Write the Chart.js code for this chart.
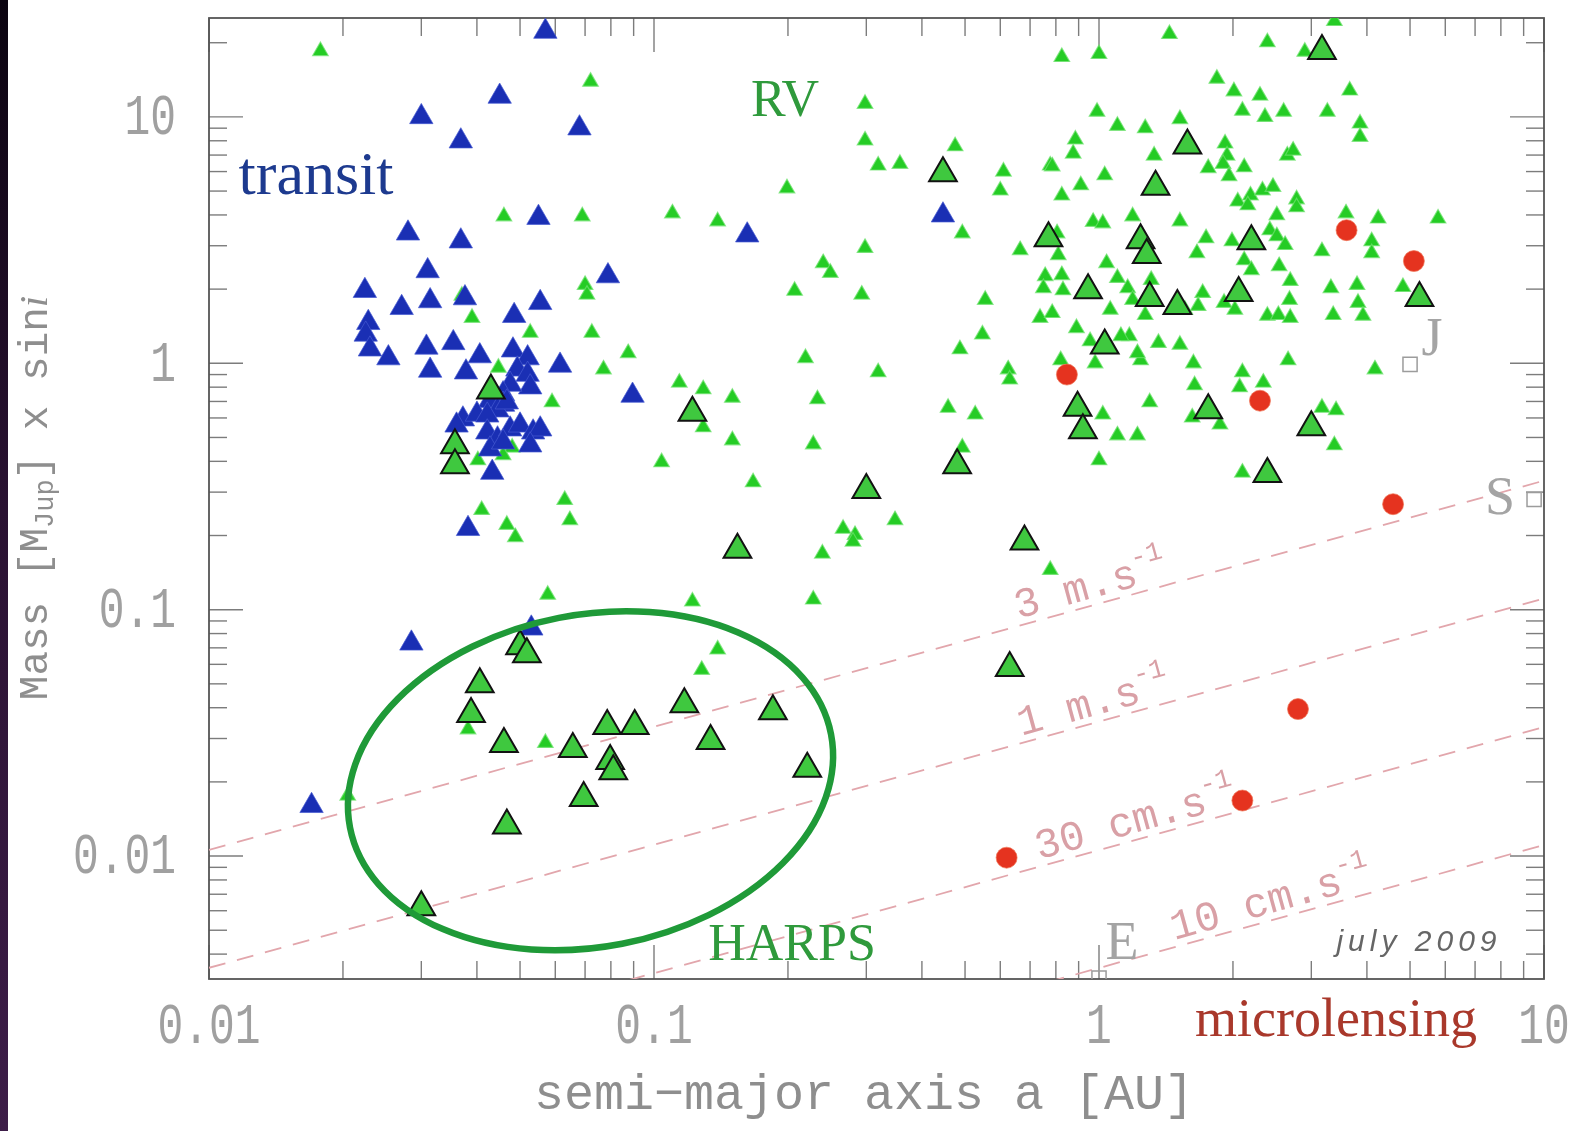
<!DOCTYPE html>
<html>
<head>
<meta charset="utf-8">
<script src="https://cdn.jsdelivr.net/npm/chart.js@4.4.0/dist/chart.umd.min.js"></script>
<style>
html,body{margin:0;padding:0;background:#fff;}
#wrap{position:relative;width:1583px;height:1131px;overflow:hidden;background:#fff;}
#band{position:absolute;left:0;top:0;width:8px;height:1131px;background:linear-gradient(#0b0410,#2a1232 45%,#3d1d48);}
canvas{position:absolute;left:0;top:0;}
</style>
</head>
<body>
<div id="wrap"><canvas id="c" width="1583" height="1131"></canvas><div id="band"></div></div>
<script>
// ---------------- DATA ----------------
// Radial-velocity planets (small green triangles): semi-major axis [AU], mass [M_Jup]
const rvA = [
 0.0178,0.046,0.037,0.039,0.0527,0.070,0.0707,0.0725,0.0447,0.077,0.059,0.048,0.0458,0.0402,0.041,0.0467,0.0488,0.063,0.0647,0.0577,0.057,0.0382,0.0205,0.072,0.069,0.11,0.139,0.0875,0.114,0.129,0.15,0.129,0.15,0.104,0.167,0.122,0.139,0.128,
 0.199,0.298,0.298,0.319,0.357,0.475,0.61,0.60,0.777,0.24,0.249,0.298,0.493,0.665,0.207,0.293,0.555,0.757,0.75,0.825,0.83,0.737,0.785,0.219,0.319,0.547,0.487,0.625,0.63,0.233,0.458,0.527,0.228,0.493,0.239,0.266,0.283,0.28,0.348,0.777,0.228,
 3.38,1.44,2.39,2.9,0.825,1.0,1.84,2.01,2.3,3.66,2.1,2.36,2.6,3.26,0.99,1.10,1.27,1.52,3.86,3.86,
 0.885,0.875,1.33,1.92,1.94,1.9,2.65,2.73,0.785,1.03,1.76,2.12,1.96,0.91,0.825,2.05,2.19,2.33,2.46,2.16,
 2.78,2.78,2.51,3.59,4.24,5.78,0.97,1.02,1.19,1.52,2.42,0.805,1.74,1.66,1.99,2.51,2.62,3.17,4.1,4.1,
 0.81,1.04,2.12,2.2,2.54,1.10,1.16,1.19,1.31,1.71,2.69,2.68,1.91,2.02,1.67,3.32,3.8,3.82,3.92,4.82,
 2.39,2.53,2.69,3.36,1.06,1.27,1.56,0.89,0.955,1.17,1.36,1.52,1.24,0.98,1.63,2.66,4.17,0.82,2.1,2.07,
 2.34,1.64,1.30,1.02,1.10,1.22,1.0,1.62,1.87,3.17,3.41,3.38,2.1,1.12,1.22
];
const rvM = [
 18.5,3.95,1.88,1.53,1.33,2.08,1.90,1.33,0.96,0.945,0.695,0.455,0.424,0.404,0.254,0.221,0.197,0.279,0.231,0.115,0.0288,0.0327,0.0176,13.9,3.95,4.06,3.77,1.10,0.835,0.785,0.725,0.55,0.487,0.397,0.329,0.108,0.069,0.057,
 5.13,11.3,8.03,6.35,6.45,7.6,6.0,5.03,6.35,2.55,2.33,2.94,3.37,2.88,1.97,1.90,1.81,2.26,2.02,2.28,1.98,1.53,1.60,1.05,0.92,1.31,1.14,0.945,0.86,0.715,0.66,0.62,0.469,0.455,0.169,0.213,0.201,0.189,0.231,0.145,0.11,
 24.5,21.7,20.1,18.4,17.5,18.0,14.3,12.7,12.2,12.8,10.6,10.0,10.5,10.5,10.5,9.2,9.0,9.8,9.4,8.3,
 8.1,7.1,6.97,7.8,6.97,6.45,6.97,7.3,6.3,5.8,6.2,6.25,5.75,5.28,4.8,4.54,4.8,5.03,5.2,4.38,
 4.63,4.3,3.99,4.06,3.87,3.87,3.75,3.7,3.95,3.77,3.47,3.37,3.22,2.8,3.13,3.28,3.02,2.85,3.13,2.8,
 2.75,2.55,2.62,2.39,2.48,2.22,2.02,1.81,2.18,1.93,2.16,1.81,1.76,1.65,1.71,2.02,2.08,1.76,1.56,2.04,
 1.56,1.57,1.53,1.57,1.65,1.57,1.65,1.39,1.23,1.29,1.21,1.19,1.03,1.0,1.0,1.03,0.945,1.03,0.92,0.80,
 0.835,0.815,0.695,0.62,0.51,0.51,0.404,0.603,0.565,0.66,0.645,0.465,0.36,1.29,1.10
];
// Transiting planets (blue triangles)
const transitA = [0.057,0.045,0.030,0.0368,0.068,0.055,0.028,0.0368,0.031,0.0224,0.0271,0.0314,0.0376,0.0485,0.0555,0.0228,0.0225,0.023,0.0253,0.0308,0.0354,0.0314,0.0378,0.0406,0.0482,0.052,0.0493,0.052,0.0527,0.0475,0.0458,0.0458,0.0428,0.0445,0.0615,0.0788,0.162,0.446,0.0895,0.0372,0.040,0.036,0.0422,0.0467,0.0422,0.0445,0.0475,0.050,0.0535,0.0555,0.0527,0.0428,0.0458,0.0433,0.0382,0.0285,0.053,0.017];
const transitM = [22.2,12.1,10.0,7.97,9.0,3.9,3.37,3.13,2.37,1.97,1.68,1.79,1.84,1.56,1.76,1.46,1.31,1.14,1.05,1.16,1.21,0.935,0.92,1.07,1.13,1.05,0.945,0.90,0.80,0.82,0.75,0.68,0.705,0.645,0.98,2.26,3.31,3.99,0.74,0.593,0.62,0.56,0.615,0.695,0.525,0.492,0.54,0.56,0.525,0.54,0.465,0.448,0.478,0.36,0.213,0.073,0.084,0.016];
// HARPS planets (outlined green triangles)
const harpsA = [0.446,0.77,1.58,1.34,0.945,1.24,1.28,1.30,1.50,2.06,2.2,3.17,5.25,1.03,0.895,0.92,1.76,3.0,2.39,0.48,0.68,0.122,0.30,0.154,0.63,0.043,0.0357,0.0357,0.050,0.0518,0.0406,0.0388,0.046,0.0467,0.030,0.0785,0.0905,0.117,0.185,0.0657,0.134,0.0797,0.081,0.221,0.0695];
const harpsM = [5.9,3.22,7.65,5.2,1.98,3.16,2.75,1.84,1.71,1.93,3.13,18.5,1.84,1.18,0.66,0.535,0.645,0.55,0.355,0.386,0.189,0.63,0.306,0.175,0.058,0.775,0.465,0.386,0.071,0.066,0.0498,0.0377,0.0285,0.0133,0.0062,0.0337,0.0337,0.0413,0.0387,0.0272,0.0293,0.0243,0.0221,0.0226,0.0172];
// Microlensing planets (red circles)
const microA = [0.847,0.62,2.3,3.6,5.1,4.58,2.8,2.1];
const microM = [0.90,0.00985,0.705,3.47,2.6,0.268,0.0395,0.0168];
// Solar-system planets
const planetNames = ['J','S','E'];
const planetA = [5.0,9.5,1.0];
const planetM = [0.99,0.28,0.0032];
// RV semi-amplitude detection limits (two end points of each straight line, a = 0.01 and 10 AU)
const limitA = [0.01, 10];
const limit3ms = [0.0106, 0.334];
const limit1ms = [0.00352, 0.111];
const limit30cms = [0.00106, 0.0334];
const limit10cms = [0.000352, 0.0111];
const limitText = ['3 m.s', '1 m.s', '30 cm.s', '10 cm.s'];
const limitTextA = [0.665, 0.675, 0.74, 1.49];
// Axis ticks
const xMajor = [0.01, 0.1, 1, 10];
const xLabels = ['0.01', '0.1', '1', '10'];
const xMinor = [0.02,0.03,0.04,0.05,0.06,0.07,0.08,0.09,0.2,0.3,0.4,0.5,0.6,0.7,0.8,0.9,2,3,4,5,6,7,8,9];
const yMajor = [0.01, 0.1, 1, 10];
const yLabels = ['0.01', '0.1', '1', '10'];
const yMinor = [0.004,0.005,0.006,0.007,0.008,0.009,0.02,0.03,0.04,0.05,0.06,0.07,0.08,0.09,0.2,0.3,0.4,0.5,0.6,0.7,0.8,0.9,2,3,4,5,6,7,8,9,20];
// HARPS zone centre (data coordinates)
const harpsZone = {a: 0.072, m: 0.0202};

// ---------------- helpers ----------------
const pts = (A, M) => A.map((a, i) => ({x: a, y: M[i]}));
function seg(ctx, x1, y1, x2, y2) { ctx.beginPath(); ctx.moveTo(x1, y1); ctx.lineTo(x2, y2); ctx.stroke(); }
function txt(ctx, s, x, y, font, color, align, base, sx) {
  ctx.save(); ctx.translate(x, y); ctx.scale(sx || 1, 1);
  ctx.font = font; ctx.fillStyle = color; ctx.textAlign = align; ctx.textBaseline = base;
  ctx.fillText(s, 0, 0); ctx.restore();
}
const GREY = '#8e8e8e';
const TICKGREY = '#a0a0a0';
const TICKFONT = '58px "Liberation Mono"';

const decor = {
  id: 'decor',
  beforeDatasetsDraw(chart) {
    const {ctx, chartArea: a, scales: {x, y}} = chart;
    ctx.save();
    ctx.strokeStyle = '#7c7c7c'; ctx.lineWidth = 1.4;
    const MAJ = 34, MIN = 18;
    xMajor.forEach(v => { const p = x.getPixelForValue(v); seg(ctx, p, a.bottom, p, a.bottom - MAJ); seg(ctx, p, a.top, p, a.top + MAJ); });
    xMinor.forEach(v => { const p = x.getPixelForValue(v); seg(ctx, p, a.bottom, p, a.bottom - MIN); seg(ctx, p, a.top, p, a.top + MIN); });
    yMajor.forEach(v => { const p = y.getPixelForValue(v); seg(ctx, a.left, p, a.left + MAJ, p); seg(ctx, a.right, p, a.right - MAJ, p); });
    yMinor.forEach(v => { const p = y.getPixelForValue(v); seg(ctx, a.left, p, a.left + MIN, p); seg(ctx, a.right, p, a.right - MIN, p); });
    ctx.strokeStyle = '#555'; ctx.lineWidth = 1.8;
    ctx.strokeRect(a.left, a.top, a.right - a.left, a.bottom - a.top);
    // tick labels
    xMajor.forEach((v, i) => txt(ctx, xLabels[i], x.getPixelForValue(v), 1028, TICKFONT, TICKGREY, 'center', 'middle', 0.74));
    yMajor.forEach((v, i) => txt(ctx, yLabels[i], 176, y.getPixelForValue(v) + 2, TICKFONT, TICKGREY, 'right', 'middle', 0.74));
    // x title
    txt(ctx, 'semi\u2212major axis a [AU]', 864, 1096, '50px "Liberation Mono"', GREY, 'center', 'middle');
    // y title (rotated)
    ctx.translate(36, 498); ctx.rotate(-Math.PI / 2);
    ctx.fillStyle = GREY; ctx.textBaseline = 'middle'; ctx.textAlign = 'left';
    const parts = [
      ['Mass [M', '41px "Liberation Mono"', 0],
      ['Jup', '27px "Liberation Mono"', 10],
      ['] x sin', '41px "Liberation Mono"', 0],
      ['i', 'italic 41px "Liberation Serif"', 0]
    ];
    let tot = 0;
    parts.forEach(p => { ctx.font = p[1]; tot += ctx.measureText(p[0]).width; });
    let cx = -tot / 2;
    parts.forEach(p => { ctx.font = p[1]; ctx.fillText(p[0], cx, p[2]); cx += ctx.measureText(p[0]).width; });
    ctx.restore();
  },
  afterDatasetsDraw(chart) {
    const {ctx, scales: {x, y}} = chart;
    ctx.save();
    // detection limit labels, along the dashed lines
    const lims = [limit3ms, limit1ms, limit30cms, limit10cms];
    lims.forEach((L, i) => {
      const x1 = x.getPixelForValue(limitA[0]), y1 = y.getPixelForValue(L[0]);
      const x2 = x.getPixelForValue(limitA[1]), y2 = y.getPixelForValue(L[1]);
      const ang = Math.atan2(y2 - y1, x2 - x1);
      const px = x.getPixelForValue(limitTextA[i]);
      const py = y1 + (px - x1) / (x2 - x1) * (y2 - y1);
      ctx.save(); ctx.translate(px, py); ctx.rotate(ang);
      ctx.fillStyle = '#d9a0a6'; ctx.textAlign = 'left'; ctx.textBaseline = 'alphabetic';
      ctx.font = '42px "Liberation Mono"';
      ctx.fillText(limitText[i], 0, -7);
      const w = ctx.measureText(limitText[i]).width;
      ctx.font = '27px "Liberation Mono"';
      ctx.fillText('-1', w - 2, -27);
      ctx.restore();
    });
    // HARPS ellipse
    const ex = x.getPixelForValue(harpsZone.a), ey = y.getPixelForValue(harpsZone.m);
    ctx.beginPath(); ctx.ellipse(ex, ey, 245, 166, -11 * Math.PI / 180, 0, 2 * Math.PI);
    ctx.lineWidth = 6.5; ctx.strokeStyle = '#1f9a38'; ctx.stroke();
    // planet letters
    const offs = [[22, -24], [-34, 0], [23, -33]];
    planetNames.forEach((n, i) => {
      const px = x.getPixelForValue(planetA[i]), py = y.getPixelForValue(planetM[i]);
      txt(ctx, n, px + offs[i][0], py + offs[i][1], '54px "Liberation Serif"', '#a4a4a4', 'center', 'middle');
    });
    // method labels
    txt(ctx, 'transit', 316, 178, '62px "Liberation Serif"', '#1d3a8f', 'center', 'middle');
    txt(ctx, 'RV', 785, 102, '52px "Liberation Serif"', '#2f9a3c', 'center', 'middle');
    txt(ctx, 'HARPS', 792, 946, '52px "Liberation Serif"', '#2f9a3c', 'center', 'middle');
    txt(ctx, 'microlensing', 1336, 1022, '54px "Liberation Serif"', '#a9382b', 'center', 'middle');
    ctx.save();
    ctx.font = 'italic 30px "Liberation Sans"'; ctx.fillStyle = '#666';
    ctx.letterSpacing = '5px'; ctx.textAlign = 'center'; ctx.textBaseline = 'middle';
    ctx.fillText('july 2009', 1419, 943);
    ctx.restore();
    ctx.restore();
  }
};

const lineDs = (L) => ({
  type: 'line', data: pts(limitA, L), showLine: true, pointRadius: 0,
  borderColor: '#e2a6ac', borderWidth: 1.8, borderDash: [17, 12], fill: false, clip: 0, order: 6
});

new Chart(document.getElementById('c'), {
  type: 'scatter',
  data: {
    datasets: [
      {label: 'microlensing', data: pts(microA, microM), pointStyle: 'circle', pointRadius: 10.5,
       backgroundColor: '#e5331f', borderColor: 'rgba(240,120,90,0.7)', borderWidth: 1, order: 0},
      {label: 'HARPS', data: pts(harpsA, harpsM), pointStyle: 'triangle', pointRadius: 16,
       backgroundColor: '#3fc83f', borderColor: '#121212', borderWidth: 2, order: 1},
      {label: 'transit', data: pts(transitA, transitM), pointStyle: 'triangle', pointRadius: 13.5,
       backgroundColor: '#1a2fb4', borderColor: 'rgba(70,90,210,0.7)', borderWidth: 1, order: 2},
      {label: 'RV', data: pts(rvA, rvM), pointStyle: 'triangle', pointRadius: 9,
       backgroundColor: '#25cc25', borderColor: 'rgba(110,225,110,0.75)', borderWidth: 1.2, order: 3},
      {label: 'Solar system', data: pts(planetA, planetM), pointStyle: 'rect', pointRadius: 10,
       backgroundColor: 'rgba(255,255,255,0)', borderColor: '#9c9c9c', borderWidth: 1.5, order: 4},
      lineDs(limit3ms), lineDs(limit1ms), lineDs(limit30cms), lineDs(limit10cms)
    ]
  },
  options: {
    responsive: false, animation: false, devicePixelRatio: 1, events: [],
    layout: {padding: {left: 209, right: 39, top: 14, bottom: 152}},
    plugins: {legend: {display: false}, tooltip: {enabled: false}},
    scales: {
      x: {type: 'logarithmic', min: 0.01, max: 10, bounds: 'data',
          ticks: {display: false}, grid: {display: false, drawTicks: false}, border: {display: false},
          afterFit(s) { s.height = 0; }},
      y: {type: 'logarithmic', min: 0.00317, max: 25.2, bounds: 'data',
          ticks: {display: false}, grid: {display: false, drawTicks: false}, border: {display: false},
          afterFit(s) { s.width = 0; }}
    }
  },
  plugins: [decor]
});
</script>
</body>
</html>
